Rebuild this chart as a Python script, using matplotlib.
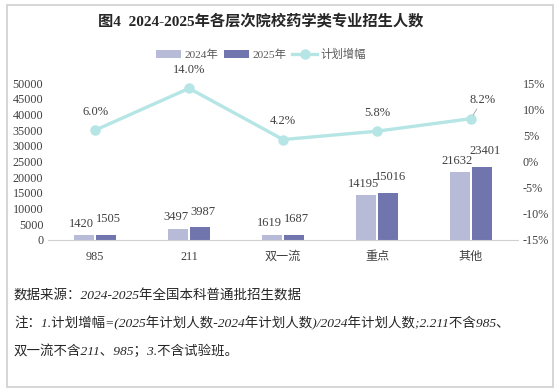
import matplotlib.pyplot as plt
from matplotlib.patches import Rectangle
import numpy as np

# данные с картинки
categories = ["985", "211", "双一流", "重点", "其他"]
plan_2024 = [1420, 3497, 1619, 14195, 21632]
plan_2025 = [1505, 3987, 1687, 15016, 23401]
growth = [6.0, 14.0, 4.2, 5.8, 8.2]  # %
growth_labels = ["6.0%", "14.0%", "4.2%", "5.8%", "8.2%"]
left_ticks = list(range(0, 50001, 5000))
right_ticks = [-15, -10, -5, 0, 5, 10, 15]

title = "图4  2024-2025年各层次院校药学类专业招生人数"
notes = [
    "数据来源：2024-2025年全国本科普通批招生数据",
    "注：1.计划增幅=(2025年计划人数-2024年计划人数)/2024年计划人数;2.211不含985、",
    "双一流不含211、985；3.不含试验班。",
]

c24 = '#b8bbd7'
c25 = '#7175ad'
cline = '#b5e5e4'
txt = '#404040'

plt.rcParams['font.family'] = ['Liberation Serif', 'Noto Sans CJK SC', 'DejaVu Sans']

fig = plt.figure(figsize=(5.6, 3.92), dpi=100)
fig.patches.append(Rectangle((0.012, 0.013), 0.976, 0.974, transform=fig.transFigure,
                             fill=False, edgecolor='#d0d0d0', linewidth=1.2))

ax = fig.add_axes([0.086, 0.388, 0.839, 0.4])
x = np.arange(len(categories))
w = 0.21
b1 = ax.bar(x - w / 2 - 0.01, plan_2024, w, color=c24, label='2024年', zorder=2)
b2 = ax.bar(x + w / 2 + 0.01, plan_2025, w, color=c25, label='2025年', zorder=2)
for r, v in zip(b1, plan_2024):
    ax.annotate(str(v), (r.get_x() + r.get_width() / 2, v), xytext=(-2, 4),
                textcoords='offset points', ha='center', va='bottom', fontsize=9, color=txt)
for r, v in zip(b2, plan_2025):
    ax.annotate(str(v), (r.get_x() + r.get_width() / 2, v), xytext=(2, 7),
                textcoords='offset points', ha='center', va='bottom', fontsize=9, color=txt)

ax.set_xlim(-0.5, len(categories) - 0.5)
ax.set_ylim(0, 50000)
ax.set_yticks(left_ticks)
ax.set_xticks(x)
ax.set_xticklabels(categories)
ax.tick_params(axis='both', length=0, labelsize=8.7, colors=txt)
ax.tick_params(axis='x', pad=8)
for s in ['top', 'left', 'right']:
    ax.spines[s].set_visible(False)
ax.spines['bottom'].set_color('#d0d0d0')

ax2 = ax.twinx()
ln, = ax2.plot(x, growth, color=cline, linewidth=2.4, marker='o', markersize=6.5,
               label='计划增幅', zorder=3)
ax2.set_ylim(-15, 15)
ax2.set_yticks(right_ticks)
ax2.set_yticklabels([f"{t}%" for t in right_ticks])
ax2.tick_params(axis='y', length=0, labelsize=8.7, colors=txt)
for s in ax2.spines.values():
    s.set_visible(False)
for i, (v, lab) in enumerate(zip(growth, growth_labels)):
    if i == 4:
        ax2.annotate(lab, (x[i], v), xytext=(8, 9), textcoords='offset points',
                     ha='center', va='bottom', fontsize=9, color=txt,
                     arrowprops=dict(arrowstyle='-', color='#a0a0a0', lw=0.6,
                                     shrinkA=0, shrinkB=3))
    else:
        ax2.annotate(lab, (x[i], v), xytext=(0, 9), textcoords='offset points',
                     ha='center', va='bottom', fontsize=9, color=txt)

fig.legend(handles=[b1, b2, ln], loc='center', bbox_to_anchor=(0.466, 0.862), ncol=3,
           frameon=False, fontsize=8.2, handlelength=2.2, handletextpad=0.3,
           columnspacing=0.5, labelcolor='#595959')

fig.text(0.466, 0.944, title, ha='center', va='center', fontsize=11, fontweight='bold',
         color='#262626')

for i, n in enumerate(notes):
    fig.text(0.025, 0.246 - i * 0.071, n, ha='left', va='center', fontsize=9.7,
             color='#262626', style='italic')

fig.savefig('out.png', dpi=100)
